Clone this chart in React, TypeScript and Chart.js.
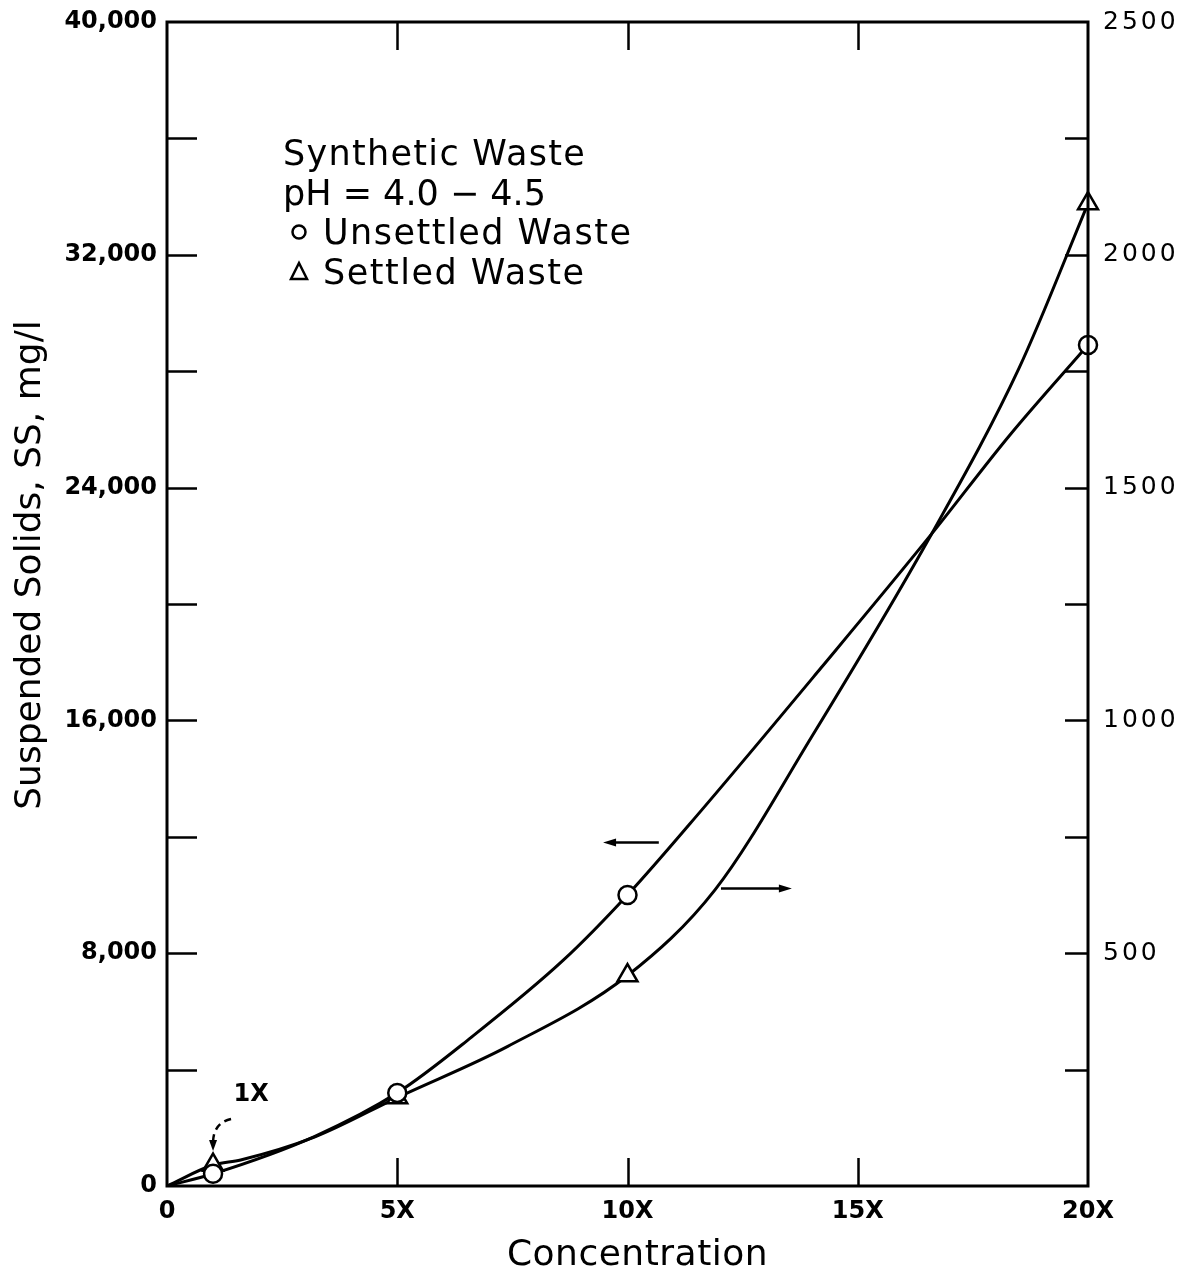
import React, { useEffect, useRef } from 'react';
import { Chart, registerables } from 'chart.js';

Chart.register(...registerables);

// Measured points
const concentration = [1, 5, 10, 20];
const unsettledSS = [420, 3200, 10000, 28900]; // left axis, mg/l
const settledSS = [45, 190, 452, 2110]; // right axis, mg/l

// Hand-drawn curves
const unsettledCurveX = [0, 1, 3.2, 5, 6.6, 8.6, 10, 11.6, 14.2, 16.6, 18.3, 20];
const unsettledCurveY = [0, 420, 1700, 3200, 5100, 7750, 10000, 12900, 17800, 22400, 25800, 28900];
const settledCurveX = [0, 1, 1.6, 3.2, 5, 7.4, 10, 11.9, 14, 16.6, 18.5, 20];
const settledCurveY = [0, 45, 56, 105, 190, 300, 452, 636, 965, 1400, 1756, 2110];

// Ticks
const xTickValues = [0, 5, 10, 15, 20];
const xTickLabels = ['0', '5X', '10X', '15X', '20X'];
const leftTickValues = [0, 4000, 8000, 12000, 16000, 20000, 24000, 28000, 32000, 36000, 40000];
const leftTickLabels = ['0', '', '8,000', '', '16,000', '', '24,000', '', '32,000', '', '40,000'];
const rightTickValues = [0, 250, 500, 750, 1000, 1250, 1500, 1750, 2000, 2250, 2500];
const rightTickLabels = ['', '', '500', '', '1000', '', '1500', '', '2000', '', '2500'];

// Texts
const xTitle = 'Concentration';
const yTitle = 'Suspended Solids, SS, mg/l';
const noteLines = ['Synthetic Waste', 'pH = 4.0 \u2212 4.5'];
const legendUnsettled = 'Unsettled Waste';
const legendSettled = 'Settled Waste';
const oneXLabel = '1X';

const W = 1181;
const H = 1262;
const FONT = "'DejaVu Sans', 'Liberation Sans', sans-serif";

function arrow(ctx: CanvasRenderingContext2D, x1: number, y: number, x2: number) {
  const dir = Math.sign(x2 - x1);
  ctx.beginPath();
  ctx.moveTo(x1, y);
  ctx.lineTo(x2 - dir * 8, y);
  ctx.stroke();
  ctx.beginPath();
  ctx.moveTo(x2, y);
  ctx.lineTo(x2 - dir * 13, y - 4);
  ctx.lineTo(x2 - dir * 13, y + 4);
  ctx.closePath();
  ctx.fill();
}

const decorPlugin = {
  id: 'decor',
  afterDatasetsDraw(chart: any) {
    chart.ctx.letterSpacing = '3px';
  },
  afterDraw(chart: any) {
    const ctx: CanvasRenderingContext2D = chart.ctx;
    const ca = chart.chartArea;
    const xs = chart.scales.x;
    const ys = chart.scales.y;
    const y2s = chart.scales.y2;
    ctx.save();
    (ctx as any).letterSpacing = '0px';
    ctx.strokeStyle = '#000';
    ctx.fillStyle = '#000';
    ctx.lineCap = 'butt';

    // frame
    ctx.lineWidth = 3;
    ctx.strokeRect(ca.left, ca.top, ca.right - ca.left, ca.bottom - ca.top);

    // inward tick marks
    ctx.lineWidth = 2.5;
    ctx.beginPath();
    leftTickValues.slice(1, -1).forEach((v) => {
      const py = Math.round(ys.getPixelForValue(v)) + 0.5;
      ctx.moveTo(ca.left, py);
      ctx.lineTo(ca.left + 30, py);
    });
    rightTickValues.slice(1, -1).forEach((v) => {
      const py = Math.round(y2s.getPixelForValue(v)) + 0.5;
      ctx.moveTo(ca.right, py);
      ctx.lineTo(ca.right - 23, py);
    });
    xTickValues.slice(1, -1).forEach((v) => {
      const px = Math.round(xs.getPixelForValue(v)) + 0.5;
      ctx.moveTo(px, ca.bottom);
      ctx.lineTo(px, ca.bottom - 28);
      ctx.moveTo(px, ca.top);
      ctx.lineTo(px, ca.top + 28);
    });
    ctx.stroke();

    // axis titles
    ctx.font = `36px ${FONT}`;
    ctx.textAlign = 'center';
    ctx.textBaseline = 'middle';
    (ctx as any).letterSpacing = '0.5px';
    ctx.fillText(xTitle, (ca.left + ca.right) / 2 + 10, 1248);
    (ctx as any).letterSpacing = '0px';
    ctx.save();
    ctx.translate(23, 557);
    ctx.rotate(-Math.PI / 2);
    ctx.fillText(yTitle, 0, 0);
    ctx.restore();

    // notes / legend
    ctx.font = `35px ${FONT}`;
    ctx.textAlign = 'left';
    ctx.textBaseline = 'alphabetic';
    (ctx as any).letterSpacing = '1.3px';
    const noteX = ca.left + 116;
    ctx.fillText(noteLines[0], noteX, 157);
    (ctx as any).letterSpacing = '0px';
    ctx.fillText(noteLines[1], noteX, 197);
    (ctx as any).letterSpacing = '1.5px';
    ctx.fillText(legendUnsettled, noteX + 40, 236);
    ctx.fillText(legendSettled, noteX + 40, 276);
    (ctx as any).letterSpacing = '0px';
    ctx.lineWidth = 2.5;
    ctx.beginPath();
    ctx.arc(noteX + 16, 224, 6.5, 0, Math.PI * 2);
    ctx.stroke();
    ctx.beginPath();
    ctx.moveTo(noteX + 16, 255);
    ctx.lineTo(noteX + 24, 271);
    ctx.lineTo(noteX + 8, 271);
    ctx.closePath();
    ctx.stroke();

    // direction arrows
    ctx.lineWidth = 2.5;
    arrow(ctx, xs.getPixelForValue(10.68), ys.getPixelForValue(11800), xs.getPixelForValue(9.47));
    arrow(ctx, xs.getPixelForValue(12.03), y2s.getPixelForValue(639), xs.getPixelForValue(13.57));

    // 1X callout
    const mx = xs.getPixelForValue(concentration[0]);
    const my = y2s.getPixelForValue(settledSS[0]);
    ctx.font = `bold 24px ${FONT}`;
    ctx.textAlign = 'center';
    ctx.textBaseline = 'middle';
    ctx.fillText(oneXLabel, mx + 38, my - 70);
    ctx.setLineDash([7, 5]);
    ctx.lineWidth = 2.5;
    ctx.beginPath();
    ctx.moveTo(mx + 18, my - 46);
    ctx.quadraticCurveTo(mx, my - 42, mx, my - 22);
    ctx.stroke();
    ctx.setLineDash([]);
    ctx.beginPath();
    ctx.moveTo(mx, my - 14);
    ctx.lineTo(mx - 4, my - 25);
    ctx.lineTo(mx + 4, my - 25);
    ctx.closePath();
    ctx.fill();

    ctx.restore();
    (ctx as any).letterSpacing = '0px';
  },
};

const noPad = (s: any) => {
  s.paddingTop = 0;
  s.paddingBottom = 0;
  s.paddingLeft = 0;
  s.paddingRight = 0;
};

export default function App() {
  const ref = useRef<HTMLCanvasElement | null>(null);

  useEffect(() => {
    if (!ref.current) return;
    const tickFont = { family: FONT, size: 24, weight: 'bold' as const };
    const chart = new Chart(ref.current, {
      type: 'scatter',
      data: {
        datasets: [
          {
            label: 'Unsettled Waste',
            data: concentration.map((x, i) => ({ x, y: unsettledSS[i] })),
            yAxisID: 'y',
            showLine: false,
            pointStyle: 'circle',
            pointRadius: 9,
            pointBorderWidth: 2.5,
            pointBackgroundColor: '#fff',
            pointBorderColor: '#000',
            clip: false as any,
            order: 0,
          },
          {
            label: 'Settled Waste',
            data: concentration.map((x, i) => ({ x, y: settledSS[i] })),
            yAxisID: 'y2',
            showLine: false,
            pointStyle: 'triangle',
            pointRadius: 11.5,
            pointBorderWidth: 2.5,
            pointBackgroundColor: '#fff',
            pointBorderColor: '#000',
            clip: false as any,
            order: 0,
          },
          {
            label: 'Unsettled curve',
            data: unsettledCurveX.map((x, i) => ({ x, y: unsettledCurveY[i] })),
            yAxisID: 'y',
            showLine: true,
            pointRadius: 0,
            borderColor: '#000',
            borderWidth: 3,
            cubicInterpolationMode: 'monotone',
            order: 1,
          },
          {
            label: 'Settled curve',
            data: settledCurveX.map((x, i) => ({ x, y: settledCurveY[i] })),
            yAxisID: 'y2',
            showLine: true,
            pointRadius: 0,
            borderColor: '#000',
            borderWidth: 3,
            cubicInterpolationMode: 'monotone',
            order: 1,
          },
        ],
      },
      options: {
        responsive: false,
        animation: false,
        devicePixelRatio: 1,
        events: [],
        layout: { padding: { top: 12, left: 0, right: 0, bottom: 0 } },
        plugins: { legend: { display: false }, tooltip: { enabled: false }, title: { display: false } },
        scales: {
          x: {
            type: 'linear',
            position: 'bottom',
            min: 0,
            max: 20,
            afterBuildTicks: (s: any) => {
              s.ticks = xTickValues.map((v) => ({ value: v }));
            },
            afterFit: (s: any) => {
              s.height = 84;
              noPad(s);
            },
            ticks: {
              callback: (_v: any, i: number) => xTickLabels[i],
              font: tickFont,
              color: '#000',
              padding: 11,
              maxRotation: 0,
              autoSkip: false,
            },
            grid: { display: false, drawTicks: false },
            border: { display: false },
          },
          y: {
            type: 'linear',
            position: 'left',
            min: 0,
            max: 40000,
            afterBuildTicks: (s: any) => {
              s.ticks = leftTickValues.map((v) => ({ value: v }));
            },
            afterFit: (s: any) => {
              s.width = 159;
              noPad(s);
            },
            ticks: {
              callback: (_v: any, i: number) => leftTickLabels[i],
              font: tickFont,
              color: '#000',
              padding: 10,
              autoSkip: false,
            },
            grid: { display: false, drawTicks: false },
            border: { display: false },
          },
          y2: {
            type: 'linear',
            position: 'right',
            min: 0,
            max: 2500,
            afterBuildTicks: (s: any) => {
              s.ticks = rightTickValues.map((v) => ({ value: v }));
            },
            afterFit: (s: any) => {
              s.width = 101;
              noPad(s);
            },
            ticks: {
              z: 1,
              callback: (_v: any, i: number) => rightTickLabels[i],
              font: { family: FONT, size: 25, weight: 'normal' as const },
              color: '#000',
              padding: 15,
              autoSkip: false,
            },
            grid: { display: false, drawTicks: false },
            border: { display: false },
          },
        },
      } as any,
      plugins: [decorPlugin],
    });
    return () => chart.destroy();
  }, []);

  return (
    <div style={{ width: W, height: H }}>
      <canvas ref={ref} width={W} height={H} style={{ display: 'block', width: W, height: H }} />
    </div>
  );
}
